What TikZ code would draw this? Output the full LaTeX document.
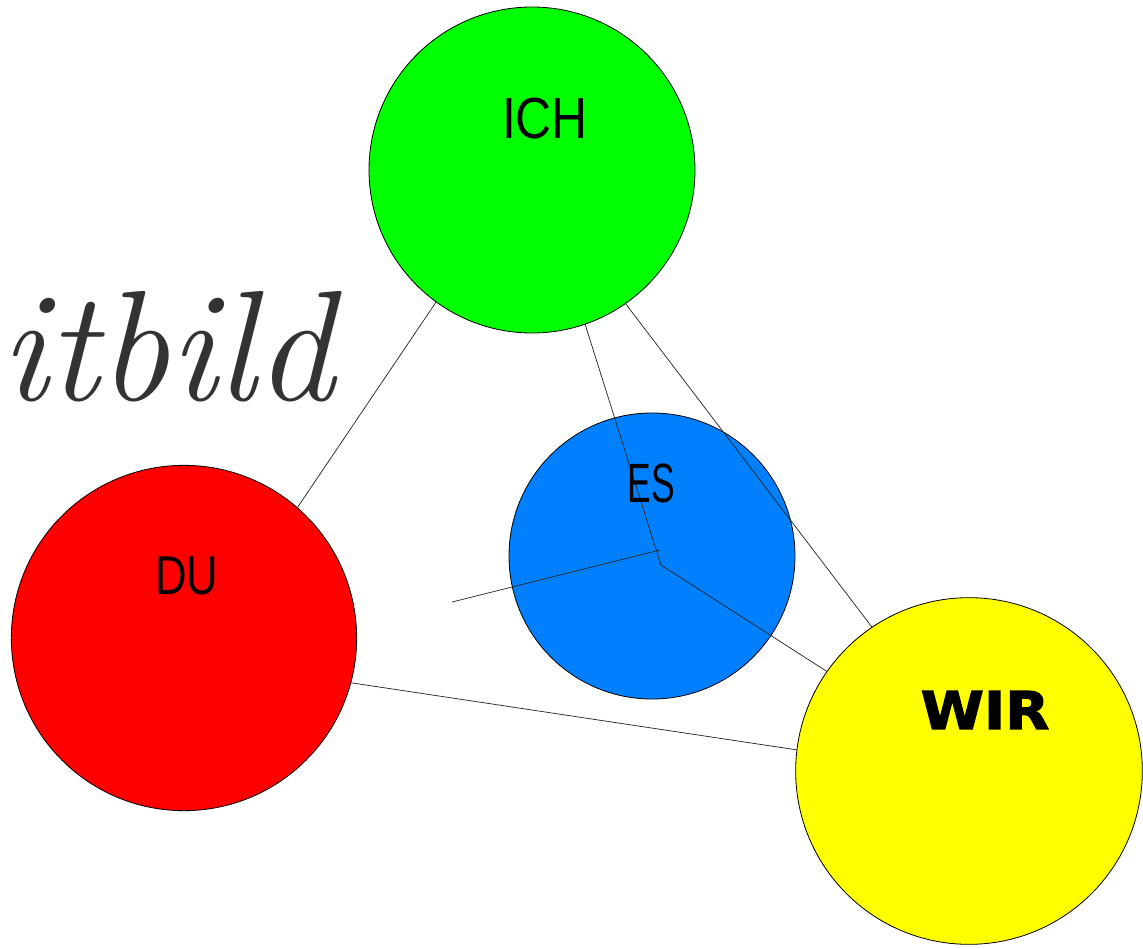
\documentclass[tikz,border=0pt]{standalone}
\usepackage{fontspec}
\newfontfamily\ichfont[FakeStretch=0.86]{Liberation Sans}
\newfontfamily\dufont[FakeStretch=0.8]{Liberation Sans}
\newfontfamily\esfont[FakeStretch=0.64]{Liberation Sans}
\newfontfamily\wirfont[FakeStretch=1.1,FakeBold=2.5]{DejaVu Sans}
\definecolor{ichgreen}{RGB}{0,255,0}
\definecolor{dured}{RGB}{255,0,0}
\definecolor{esblue}{RGB}{0,128,255}
\definecolor{wiryellow}{RGB}{255,255,0}
\begin{document}
\begin{tikzpicture}[x=0.75pt,y=-0.75pt,
  ball/.style={circle,draw=black,line width=0.6pt,inner sep=0pt},
  link/.style={draw=black!85,line width=0.55pt},
  lbl/.style={inner sep=0pt}]
\useasboundingbox (0,0) rectangle (1143,949);
\node[anchor=base west,text=black!80,inner sep=0pt,font=\fontsize{118}{118}\selectfont\itshape] (hand) at (0,400) {itbild};
\node[ball,fill=esblue,minimum size=214.5pt] (es) at (652,556) {};
\node[ball,fill=ichgreen,minimum size=244.5pt] (ich) at (532,170) {};
\node[ball,fill=dured,minimum size=259pt] (du) at (184,638) {};
\node[ball,fill=wiryellow,minimum size=260pt] (wir) at (969,771) {};
\coordinate (j) at (661,565);
\coordinate (k) at (660,550);
\coordinate (l) at (452,602);
\draw[link] (ich.234.6) -- (du.49.4);
\draw[link] (ich.305.4) -- (wir.124.1);
\draw[link] (du.-15.3) -- (wir.173.7);
\draw[link] (ich.-71.9) -- (j);
\draw[link] (j) -- (wir.145.1);
\draw[link] (l) -- (k);
\node[lbl,font=\ichfont\fontsize{43.5}{43.5}\selectfont] (tich) at (545,119) {ICH};
\node[lbl,font=\esfont\fontsize{41.5}{41.5}\selectfont] (tes) at (651,483) {ES};
\node[lbl,font=\dufont\fontsize{41}{41}\selectfont] (tdu) at (187,576) {DU};
\node[lbl,font=\wirfont\bfseries\fontsize{39}{39}\selectfont] (twir) at (985,710) {WIR};
\end{tikzpicture}
\end{document}
